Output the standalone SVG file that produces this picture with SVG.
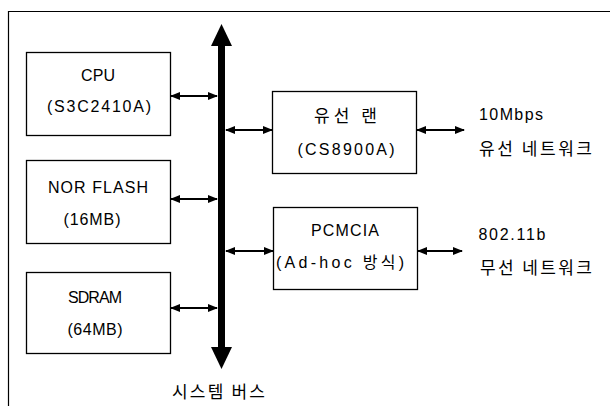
<svg xmlns="http://www.w3.org/2000/svg" width="610" height="406" viewBox="0 0 610 406">
<defs>
<style>
.box{fill:#fff;stroke:#000;stroke-width:1.3}
.t{font-family:"Liberation Sans","Noto Sans CJK KR",sans-serif;font-size:16px;fill:#000;text-anchor:middle}
.k{font-family:"Noto Sans CJK KR","Liberation Sans",sans-serif;font-size:17px;fill:#000}
.c{stroke:#000;stroke-width:2.2;fill:none;marker-start:url(#a);marker-end:url(#a)}
</style>
<marker id="a" viewBox="0 0 10 8" refX="9" refY="4" markerWidth="10" markerHeight="8" markerUnits="userSpaceOnUse" orient="auto-start-reverse">
<path d="M0,0 L10,4 L0,8 Z" fill="#000"/>
</marker>
</defs>
<rect width="610" height="406" fill="#fff"/>
<path d="M8.5,406 V11.5 H610" fill="none" stroke="#000" stroke-width="1.2"/>
<g id="bus">
<rect x="218" y="44" width="7" height="305" fill="#000"/>
<polygon points="221.5,24 232,46 211,46" fill="#000"/>
<polygon points="211,347 232,347 221.5,369" fill="#000"/>
<text class="k" x="172" y="398" textLength="93" lengthAdjust="spacing">시스템 버스</text>
</g>
<g id="cpu">
<rect class="box" x="26.5" y="52.5" width="144" height="83"/>
<text class="t" x="98" y="81" textLength="34">CPU</text>
<text class="t" x="99" y="112" textLength="104" lengthAdjust="spacing">(S3C2410A)</text>
</g>
<g id="norflash">
<rect class="box" x="26.5" y="160.5" width="144" height="83"/>
<text class="t" x="98" y="193" textLength="100" lengthAdjust="spacing">NOR FLASH</text>
<text class="t" x="92" y="225" textLength="57" lengthAdjust="spacing">(16MB)</text>
</g>
<g id="sdram">
<rect class="box" x="26.5" y="272.5" width="144" height="81"/>
<text class="t" x="95" y="303" textLength="54" lengthAdjust="spacing">SDRAM</text>
<text class="t" x="95" y="335" textLength="55" lengthAdjust="spacing">(64MB)</text>
</g>
<g id="lan">
<rect class="box" x="272.5" y="91.5" width="144" height="82"/>
<text class="k" x="314" y="122" textLength="63" lengthAdjust="spacing">유선 랜</text>
<text class="t" x="346" y="155" textLength="97" lengthAdjust="spacing">(CS8900A)</text>
</g>
<g id="pcmcia">
<rect class="box" x="273.5" y="207.5" width="144" height="82"/>
<text class="t" x="345" y="236" textLength="68" lengthAdjust="spacing">PCMCIA</text>
<text class="t" x="340" y="268" textLength="128" lengthAdjust="spacing">(Ad-hoc 방식)</text>
</g>
<g id="wired">
<text class="t" x="511" y="120" textLength="64" lengthAdjust="spacing">10Mbps</text>
<text class="k" x="479" y="155" textLength="113" lengthAdjust="spacing">유선 네트워크</text>
</g>
<g id="wireless">
<text class="t" x="512" y="240" textLength="67" lengthAdjust="spacing">802.11b</text>
<text class="k" x="480" y="274" textLength="112" lengthAdjust="spacing">무선 네트워크</text>
</g>
<g id="connectors">
<line class="c" x1="171" y1="96" x2="217" y2="96"/>
<line class="c" x1="171" y1="199" x2="217" y2="199"/>
<line class="c" x1="171" y1="308" x2="217" y2="308"/>
<line class="c" x1="226" y1="130" x2="272" y2="130"/>
<line class="c" x1="226" y1="251" x2="273" y2="251"/>
<line class="c" x1="417" y1="130" x2="464" y2="130"/>
<line class="c" x1="418" y1="251" x2="462" y2="251"/>
</g>
</svg>
